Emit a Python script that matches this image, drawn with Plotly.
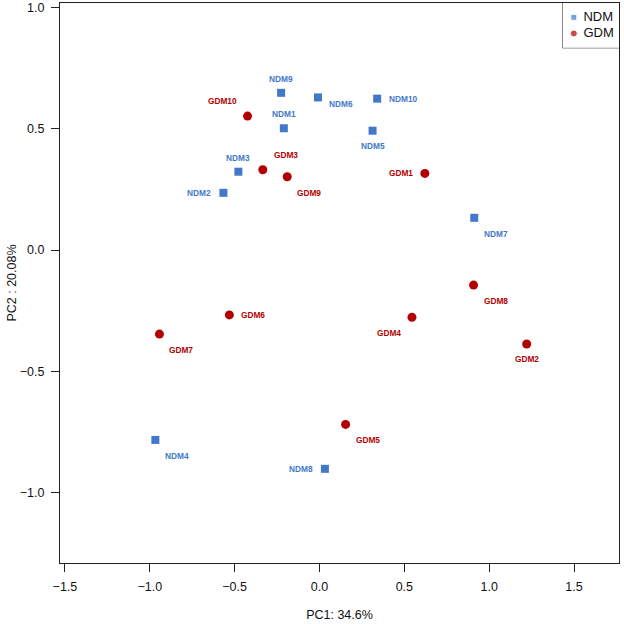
import plotly.graph_objects as go

# PCA scores
ndm_names = ["NDM1", "NDM2", "NDM3", "NDM4", "NDM5", "NDM6", "NDM7", "NDM8", "NDM9", "NDM10"]
ndm_pc1 = [-0.210, -0.566, -0.478, -0.967, 0.313, -0.009, 0.912, 0.032, -0.226, 0.340]
ndm_pc2 = [0.502, 0.236, 0.323, -0.782, 0.492, 0.629, 0.133, -0.901, 0.648, 0.624]
ndm_label_pos = ["t", "l", "t", "br", "b", "rb", "br", "l", "t", "r"]

gdm_names = ["GDM1", "GDM2", "GDM3", "GDM4", "GDM5", "GDM6", "GDM7", "GDM8", "GDM9", "GDM10"]
gdm_pc1 = [0.621, 1.221, -0.334, 0.545, 0.154, -0.531, -0.943, 0.908, -0.190, -0.424]
gdm_pc2 = [0.316, -0.387, 0.331, -0.277, -0.718, -0.267, -0.346, -0.144, 0.302, 0.552]
gdm_label_pos = ["l", "b", "tr", "bl", "br", "r", "br", "br", "br", "tl"]

x_ticks = [-1.5, -1.0, -0.5, 0.0, 0.5, 1.0, 1.5]
y_ticks = [-1.0, -0.5, 0.0, 0.5, 1.0]
legend_names = ["NDM", "GDM"]

BLUE = "#4378C8"
RED = "#B30000"
INK = "#111111"
LINE = "#222222"
FONT = "Liberation Sans, Arial, sans-serif"

# label offset (xanchor, xshift, yshift) for each position code
OFFSETS = {
    "t": ("center", 0, 14),
    "b": ("center", 0, -15),
    "l": ("right", -10, 0),
    "r": ("left", 10, 0),
    "rb": ("left", 9, -7),
    "tl": ("right", -9, 15),
    "tr": ("left", 9, 15),
    "bl": ("right", -9, -16),
    "br": ("left", 8, -16),
}


def minus(v):
    return f"{v:.1f}".replace("-", "\u2212")


fig = go.Figure()
fig.add_trace(
    go.Scatter(
        x=ndm_pc1,
        y=ndm_pc2,
        mode="markers",
        name="NDM",
        marker={"symbol": "square", "size": 8, "color": BLUE},
    )
)
fig.add_trace(
    go.Scatter(
        x=gdm_pc1,
        y=gdm_pc2,
        mode="markers",
        name="GDM",
        marker={"symbol": "circle", "size": 9, "color": RED},
    )
)

# R-style legend box in the top right corner, drawn on a unit overlay axis
legend_rows = [0.68, 0.32]
fig.add_trace(
    go.Scatter(
        x=[0.2, 0.2],
        y=legend_rows,
        mode="markers",
        marker={"symbol": ["square", "circle"], "size": [6, 7], "color": [BLUE, RED]},
        xaxis="x2",
        yaxis="y2",
        cliponaxis=False,
        hoverinfo="skip",
    )
)
fig.add_trace(
    go.Scatter(
        x=[0.37, 0.37],
        y=legend_rows,
        mode="text",
        text=legend_names,
        textposition="middle right",
        textfont={"family": FONT, "size": 13, "color": INK},
        xaxis="x2",
        yaxis="y2",
        cliponaxis=False,
        hoverinfo="skip",
    )
)

annotations = []
for names, xs, ys, codes, color in (
    (ndm_names, ndm_pc1, ndm_pc2, ndm_label_pos, BLUE),
    (gdm_names, gdm_pc1, gdm_pc2, gdm_label_pos, RED),
):
    for name, x, y, code in zip(names, xs, ys, codes):
        anchor, dx, dy = OFFSETS[code]
        annotations.append(
            {
                "x": x,
                "y": y,
                "text": f"<b>{name}</b>",
                "showarrow": False,
                "xanchor": anchor,
                "yanchor": "middle",
                "xshift": dx,
                "yshift": dy,
                "font": {"family": FONT, "size": 8.3, "color": color},
            }
        )

axis_common = {
    "showline": True,
    "linecolor": LINE,
    "linewidth": 1,
    "mirror": True,
    "ticks": "outside",
    "ticklen": 8,
    "tickcolor": LINE,
    "showgrid": False,
    "zeroline": False,
    "automargin": False,
    "ticklabelstandoff": 4,
    "tickfont": {"family": FONT, "size": 12.5, "color": INK},
}

# plot area: 60..619 px wide, 3..563 px tall
fig.update_layout(
    width=624,
    height=624,
    margin={"l": 60, "r": 5, "t": 3, "b": 61},
    plot_bgcolor="white",
    paper_bgcolor="white",
    showlegend=False,
    annotations=annotations,
    xaxis={
        "range": [-1.529, 1.765],
        "tickvals": x_ticks,
        "ticktext": [minus(v) for v in x_ticks],
        "title": {"text": "PC1: 34.6%", "font": {"family": FONT, "size": 12.5, "color": INK}, "standoff": 17},
        **axis_common,
    },
    yaxis={
        "range": [-1.289, 1.018],
        "tickvals": y_ticks,
        "ticktext": [minus(v) for v in y_ticks],
        "title": {"text": "PC2 : 20.08%", "font": {"family": FONT, "size": 12.5, "color": INK}, "standoff": 0},
        **axis_common,
    },
    xaxis2={"domain": [0.899, 1.0], "range": [0, 1], "visible": False, "anchor": "y2", "fixedrange": True},
    yaxis2={"domain": [0.920, 1.0], "range": [0, 1], "visible": False, "anchor": "x2", "fixedrange": True},
    shapes=[
        {
            "type": "rect",
            "xref": "paper",
            "yref": "paper",
            "x0": 0.899,
            "x1": 1.0,
            "y0": 0.920,
            "y1": 1.0,
            "line": {"color": LINE, "width": 1},
            "fillcolor": "white",
            "layer": "below",
        }
    ],
)

# the page body has a default 8px margin; drop it so the figure fills the window
fig.write_html(
    "out.html",
    config={"displayModeBar": False},
    post_script="document.body.style.margin = '0';",
)
